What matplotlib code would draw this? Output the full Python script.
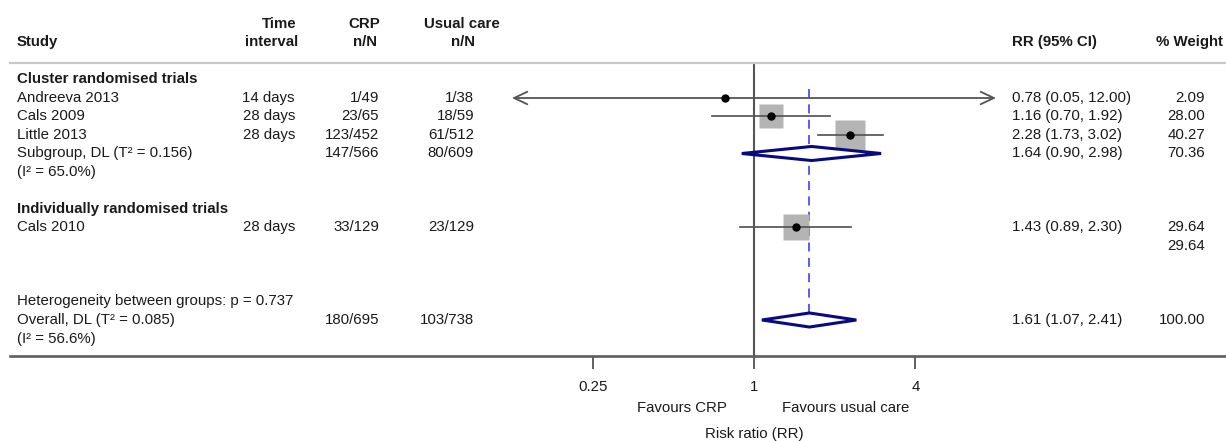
import matplotlib
matplotlib.use("Agg")
import matplotlib.pyplot as plt
from matplotlib.lines import Line2D
from matplotlib.patches import Polygon
from matplotlib import transforms

plt.rcParams['font.family'] = ['Liberation Sans', 'DejaVu Sans']

# ---- study data -------------------------------------------------------
studies = ["Andreeva 2013", "Cals 2009", "Little 2013", "Cals 2010"]
intervals = ["14 days", "28 days", "28 days", "28 days"]
crp_nN = ["1/49", "23/65", "123/452", "33/129"]
usual_nN = ["1/38", "18/59", "61/512", "23/129"]
rr = [0.78, 1.16, 2.28, 1.43]
rr_lo = [0.05, 0.70, 1.73, 0.89]
rr_hi = [12.00, 1.92, 3.02, 2.30]
weights = [2.09, 28.00, 40.27, 29.64]
study_rows = [0, 1, 2, 7]

# subgroup / overall pooled estimates
sub_label = "Subgroup, DL (T\u00b2 = 0.156)"
sub_i2 = "(I\u00b2 = 65.0%)"
sub_crp, sub_usual = "147/566", "80/609"
sub_rr, sub_lo, sub_hi, sub_w = 1.64, 0.90, 2.98, 70.36
sub2_w = 29.64

het_text = "Heterogeneity between groups: p = 0.737"
ov_label = "Overall, DL (T\u00b2 = 0.085)"
ov_i2 = "(I\u00b2 = 56.6%)"
ov_crp, ov_usual = "180/695", "103/738"
ov_rr, ov_lo, ov_hi, ov_w = 1.61, 1.07, 2.41, 100.00

xticks = [0.25, 1, 4]
xtick_labels = ["0.25", "1", "4"]

# ---- layout -------------------------------------------------------------
W, H = 1226, 441
ROW0, STEP = 98.0, 18.5          # pixel y of first study row, row spacing
TOP_PX, BOT_PX = 63, 356
AX_L, AX_R = 512, 996

fig = plt.figure(figsize=(W / 100, H / 100), dpi=100)
ax = fig.add_axes([AX_L / W, 1 - BOT_PX / H, (AX_R - AX_L) / W, (BOT_PX - TOP_PX) / H])
ax.set_xscale('log', base=2)
ax.set_xlim(0.125, 8)
ax.set_ylim((BOT_PX - ROW0) / STEP, (TOP_PX - ROW0) / STEP)
for s in ax.spines.values():
    s.set_visible(False)
ax.set_yticks([])
ax.set_xticks(xticks)
ax.set_xticklabels(xtick_labels)
ax.xaxis.set_minor_locator(matplotlib.ticker.NullLocator())

TXT = '#1a1a1a'
FS = 10.8
ax.tick_params(axis='x', direction='out', length=9.5, width=1.2, color='#444444',
               pad=8, labelsize=FS, labelcolor=TXT)

colT = transforms.blended_transform_factory(fig.transFigure, ax.transData)


def put(xpx, row, s, ha='left', bold=False):
    fig.text(xpx / W, row, s, transform=colT, ha=ha, va='center', fontsize=FS,
             color=TXT, fontweight='bold' if bold else 'normal')


# header
put(17, -3.0, "Study", bold=True)
put(297, -4.0, "Time", ha='right', bold=True)
put(298, -3.0, "interval", ha='right', bold=True)
put(380, -4.0, "CRP", ha='right', bold=True)
put(377, -3.0, "n/N", ha='right', bold=True)
put(500, -4.0, "Usual care", ha='right', bold=True)
put(475, -3.0, "n/N", ha='right', bold=True)
put(1012, -3.0, "RR (95% CI)", bold=True)
put(1223, -3.0, "% Weight", ha='right', bold=True)

# rules across the figure
fig.add_artist(Line2D([10 / W, 1], [1 - TOP_PX / H] * 2, color='#c8c8c8', lw=1.6))
fig.add_artist(Line2D([10 / W, 1], [1 - BOT_PX / H] * 2, color='#5e5e5e', lw=1.9))

# group headings
put(17, -1, "Cluster randomised trials", bold=True)
put(17, 6, "Individually randomised trials", bold=True)

# reference line and pooled-effect line
ax.axvline(1, color='#555555', lw=1.5, zorder=1)
DH = 0.38
ax.plot([ov_rr, ov_rr], [-0.5, 12 + DH], color='#4d4dff', lw=1.3,
        dashes=(5, 3.5), zorder=1)

# studies
x0, x1 = ax.get_xlim()
for name, iv, c, u, r, lo, hi, w, row in zip(studies, intervals, crp_nN, usual_nN,
                                             rr, rr_lo, rr_hi, weights, study_rows):
    put(17, row, name)
    put(295, row, iv, ha='right')
    put(379, row, c, ha='right')
    put(474, row, u, ha='right')
    put(1012, row, f"{r:.2f} ({lo:.2f}, {hi:.2f})")
    put(1205, row, f"{w:.2f}", ha='right')
    side_px = 4.6 * w ** 0.5
    ax.plot([r], [row], marker='s', ms=side_px * 0.72, color='#b4b4b4',
            mec='none', zorder=2)
    left = max(lo, x0)
    right = min(hi, x1)
    if lo < x0 or hi > x1:
        style = ('<' if lo < x0 else '') + '-' + ('>' if hi > x1 else '')
        ax.annotate('', xy=(right, row), xytext=(left, row),
                    arrowprops=dict(arrowstyle=f"{style},head_length=0.95,head_width=0.45",
                                    color='#555555', lw=1.3, mutation_scale=10,
                                    shrinkA=0, shrinkB=0), zorder=3)
    else:
        ax.plot([left, right], [row, row], color='#555555', lw=1.25, zorder=3)
    ax.plot([r], [row], marker='o', ms=5, color='black', zorder=4)


def diamond(row, est, lo, hi):
    poly = Polygon([(lo, row), (est, row - DH), (hi, row), (est, row + DH)],
                   closed=True, facecolor='white', edgecolor='#0a0a80', lw=2.2,
                   zorder=3, joinstyle='miter')
    ax.add_patch(poly)


# subgroup summary
put(17, 3, sub_label)
put(17, 4, sub_i2)
put(379, 3, sub_crp, ha='right')
put(474, 3, sub_usual, ha='right')
put(1012, 3, f"{sub_rr:.2f} ({sub_lo:.2f}, {sub_hi:.2f})")
put(1205, 3, f"{sub_w:.2f}", ha='right')
diamond(3, sub_rr, sub_lo, sub_hi)
put(1205, 8, f"{sub2_w:.2f}", ha='right')

# overall summary
put(17, 11, het_text)
put(17, 12, ov_label)
put(17, 13, ov_i2)
put(379, 12, ov_crp, ha='right')
put(474, 12, ov_usual, ha='right')
put(1012, 12, f"{ov_rr:.2f} ({ov_lo:.2f}, {ov_hi:.2f})")
put(1205, 12, f"{ov_w:.2f}", ha='right')
diamond(12, ov_rr, ov_lo, ov_hi)

# direction labels and axis title
botT = transforms.blended_transform_factory(ax.transData, fig.transFigure)
fig.text(1, 1 - 408 / H, "Favours CRP", ha='right', va='center', fontsize=FS, color=TXT,
         transform=transforms.offset_copy(botT, fig=fig, x=-27, units='dots'))
fig.text(1, 1 - 408 / H, "Favours usual care", ha='left', va='center', fontsize=FS,
         color=TXT, transform=transforms.offset_copy(botT, fig=fig, x=28, units='dots'))
fig.text(1, 1 - 434 / H, "Risk ratio (RR)", ha='center', va='center', fontsize=FS,
         color=TXT, transform=botT)

fig.savefig("out.png", dpi=100)
